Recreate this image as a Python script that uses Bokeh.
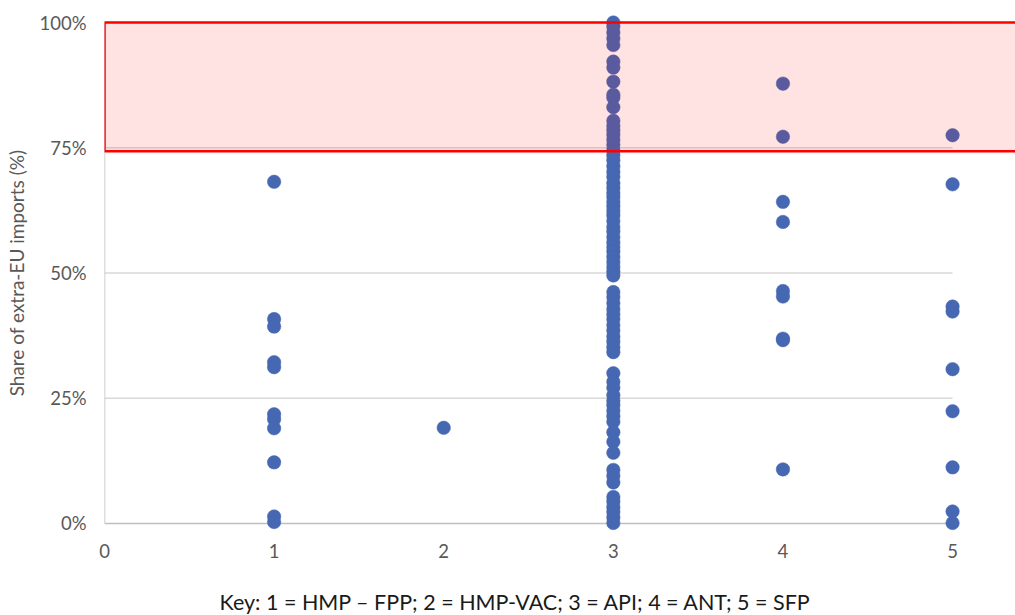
from bokeh.plotting import figure
from bokeh.models import Range1d, FixedTicker, ColumnDataSource, Title
from bokeh.embed import file_html
from bokeh.resources import INLINE

# Data: share of extra-EU imports (%) per category
cat1 = [68.2, 40.8, 39.3, 32.2, 31.2, 21.8, 20.8, 19.0, 12.2, 1.4, 0.3]
cat2 = [19.1]
cat3 = [100.0, 99.2, 98.0, 96.8, 95.5, 92.2, 91.0, 88.2, 85.6, 85.0, 83.1, 80.4, 79.4,
        78.5, 77.6, 76.6, 75.6, 74.5, 73.5, 72.5, 71.3, 70.2, 69.2, 67.9, 67.0, 66.0,
        65.2, 64.2, 63.3, 62.4, 61.5, 60.4, 59.2, 58.3, 57.2, 56.1, 55.2, 54.3, 53.2,
        52.2, 51.2, 50.3, 49.5, 46.2, 45.2, 44.0, 42.8, 41.8, 40.8, 39.6, 38.5, 37.3,
        36.3, 35.2, 34.2, 30.0, 28.3, 27.1, 25.6, 24.5, 23.6, 22.5, 21.4, 20.3, 18.2,
        16.3, 14.1, 10.7, 9.5, 8.2, 5.3, 4.4, 3.3, 2.3, 1.2, 0.1]
cat4 = [87.8, 77.2, 64.2, 60.2, 46.4, 45.3, 36.9, 36.6, 10.8]
cat5 = [77.5, 67.7, 43.3, 42.3, 30.8, 22.4, 11.2, 2.4, 0.1]

x_ticks = [0, 1, 2, 3, 4, 5]
y_ticks = [0, 25, 50, 75, 100]
y_tick_labels = ["0%", "25%", "50%", "75%", "100%"]
highlight_band = (74.3, 100)  # red highlighted zone
y_label = "Share of extra-EU imports (%)"
key_text = "Key: 1 = HMP \u2013 FPP; 2 = HMP-VAC; 3 = API; 4 = ANT; 5 = SFP"

xs, ys = [], []
for k, vals in enumerate([cat1, cat2, cat3, cat4, cat5], start=1):
    xs += [k] * len(vals)
    ys += vals
src = ColumnDataSource(dict(x=xs, y=ys))

p = figure(width=1015, height=615, output_backend="svg", toolbar_location=None,
           x_range=Range1d(0, 5.371), y_range=Range1d(-2, 102),
           min_border_left=104, min_border_right=0, min_border_top=12, min_border_bottom=82)
p.outline_line_color = None
p.grid.visible = False
p.background_fill_color = "white"

# gridlines and axis lines (from 0 to last category)
grid_y = y_ticks[1:]
p.segment(x0=[x_ticks[0]] * len(grid_y), x1=[x_ticks[-1]] * len(grid_y), y0=grid_y, y1=grid_y,
          line_color="#D9D9D9", line_width=1.5)
p.segment(x0=[x_ticks[0]], x1=[x_ticks[-1]], y0=[y_ticks[0]], y1=[y_ticks[0]],
          line_color="#BFBFBF", line_width=1.5)
p.segment(x0=[x_ticks[0]], x1=[x_ticks[0]], y0=[y_ticks[0]], y1=[y_ticks[-1]],
          line_color="#BFBFBF", line_width=1.5)

p.scatter("x", "y", source=src, size=13.5, fill_color="#4667B2", line_color="#4667B2",
          line_width=0.5)

p.quad(left=[x_ticks[0]], right=[10], bottom=[highlight_band[0]], top=[highlight_band[1]],
       fill_color="red", fill_alpha=0.11, line_color="#FF0000", line_width=2.5)

font = "Lato"
p.xaxis.ticker = FixedTicker(ticks=x_ticks)
p.yaxis.ticker = FixedTicker(ticks=y_ticks)
p.yaxis.major_label_overrides = {t: l for t, l in zip(y_ticks, y_tick_labels)}
for ax in (p.xaxis, p.yaxis):
    ax.axis_line_color = None
    ax.major_tick_line_color = None
    ax.minor_tick_line_color = None
    ax.major_tick_out = 0
    ax.major_tick_in = 0
    ax.major_label_text_font = font
    ax.major_label_text_font_size = "18.5px"
    ax.major_label_text_color = "#595959"
p.xaxis.major_label_standoff = 10
p.yaxis.major_label_standoff = 18
p.yaxis.axis_label = y_label
p.yaxis.axis_label_text_font = font
p.yaxis.axis_label_text_font_size = "19px"
p.yaxis.axis_label_text_font_style = "normal"
p.yaxis.axis_label_text_color = "#595959"
p.yaxis.axis_label_standoff = 8
# invisible spacer label to push the key text lower
p.xaxis.axis_label = "\u00a0"
p.xaxis.axis_label_text_font_size = "6px"
p.xaxis.axis_label_standoff = 17

key = Title(text=key_text, align="left", offset=115, standoff=0,
            text_font=font, text_font_size="21.5px", text_font_style="normal",
            text_color="#1a1a1a")
p.add_layout(key, "below")

open("out.html", "w").write(file_html(p, INLINE))
